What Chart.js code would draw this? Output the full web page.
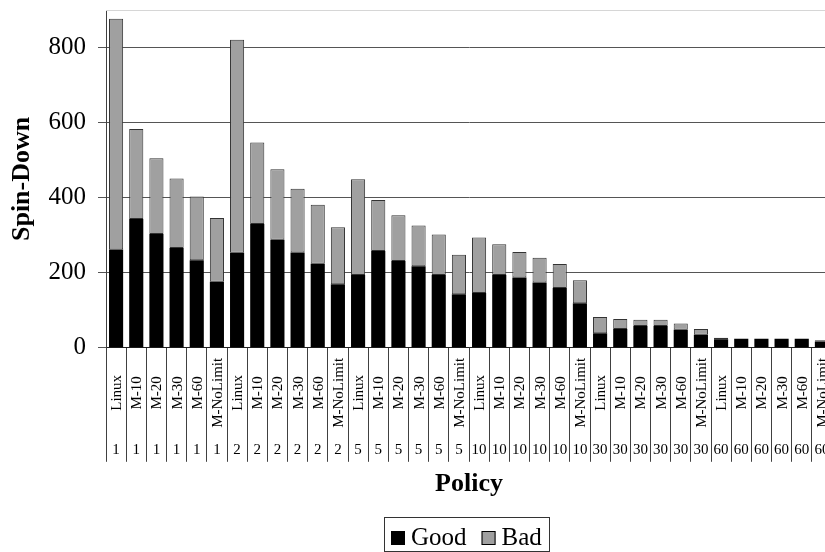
<!DOCTYPE html>
<html>
<head>
<meta charset="utf-8">
<title>Spin-Down by Policy</title>
<script src="https://cdn.jsdelivr.net/npm/chart.js@4.4.1/dist/chart.umd.min.js"></script>
<style>
  html, body { margin: 0; padding: 0; background: #fff; overflow: hidden; }
  #wrap { width: 832px; height: 552px; }
</style>
</head>
<body>
<div id="wrap"><canvas id="chart" width="832" height="552"></canvas></div>
<script>
// policies repeated inside each group (group = second label row)
const policies = ["Linux", "M-10", "M-20", "M-30", "M-60", "M-NoLimit"];
const groups = ["1", "2", "5", "10", "30", "60"];

// spin-downs per group/policy
const good = [262, 343, 303, 266, 233, 176,
              253, 330, 288, 254, 224, 169,
              194, 258, 231, 217, 194, 143,
              146, 194, 187, 174, 159, 119,
              39, 50, 58, 58, 48, 35,
              23, 24, 24, 24, 24, 17];
const bad = [615, 240, 202, 185, 170, 170,
             568, 217, 188, 170, 157, 152,
             255, 136, 122, 109, 108, 105,
             148, 82, 68, 66, 64, 61,
             43, 27, 17, 17, 17, 15,
             4, 0, 0, 0, 0, 3];

const yTicks = [0, 200, 400, 600, 800];
const yMax = 900;

const serif = '"Liberation Serif", "Times New Roman", serif';
const goodColor = "#000000";
const badColor = "#a0a0a0";

// one category per (group, policy)
const categories = [];
groups.forEach(g => policies.forEach(p => categories.push({ policy: p, group: g })));
const labels = categories.map(c => c.policy + " " + c.group);

// two row category axis: rotated policy names, then the group number
const axisLabels = {
    id: "axisLabels",
    beforeDatasetsDraw(chart) {
        const { ctx, chartArea } = chart;
        ctx.save();
        ctx.strokeStyle = "#d6d6d6";
        ctx.lineWidth = 1;
        ctx.beginPath();
        ctx.moveTo(chartArea.left, chartArea.top + 0.5);
        ctx.lineTo(chartArea.right, chartArea.top + 0.5);
        ctx.stroke();
        ctx.restore();
    },
    afterDraw(chart) {
        const { ctx, chartArea, scales: { x } } = chart;
        ctx.save();
        ctx.fillStyle = "#000";
        ctx.textAlign = "center";
        ctx.textBaseline = "middle";
        categories.forEach((c, i) => {
            const px = x.getPixelForValue(i);
            ctx.font = "15px " + serif;
            ctx.save();
            ctx.translate(px + 1, chartArea.bottom + 45);
            ctx.rotate(-Math.PI / 2);
            ctx.fillText(c.policy, 0, 0);
            ctx.restore();
            ctx.fillText(c.group, px, chartArea.bottom + 102);
        });
        ctx.restore();
    }
};

// boxed legend under the axis title
const legendBox = {
    id: "legendBox",
    afterDraw(chart) {
        const { ctx, chartArea } = chart;
        const items = [
            { text: "Good", color: goodColor },
            { text: "Bad", color: badColor }
        ];
        const sq = 14, gap = 6, spacing = 15, pad = 7;
        ctx.save();
        ctx.font = "25px " + serif;
        let total = pad * 2 + spacing * (items.length - 1);
        items.forEach(it => { it.w = ctx.measureText(it.text).width; total += sq + gap + it.w; });
        const left = Math.round((chartArea.left + chartArea.right) / 2 - total / 2 - 3);
        const top = 517, bottom = 551;

        ctx.strokeStyle = "#333";
        ctx.lineWidth = 1;
        ctx.strokeRect(left + 0.5, top + 0.5, Math.round(total), bottom - top);

        let cx = left + pad;
        ctx.textBaseline = "alphabetic";
        ctx.textAlign = "left";
        items.forEach(it => {
            ctx.fillStyle = it.color;
            ctx.fillRect(cx, 531, sq, sq);
            ctx.strokeStyle = "#000";
            ctx.strokeRect(cx + 0.5, 531.5, sq - 1, sq - 1);
            cx += sq + gap;
            ctx.fillStyle = "#000";
            ctx.fillText(it.text, cx, 545);
            cx += it.w + spacing;
        });
        ctx.restore();
    }
};

Chart.defaults.font.family = serif;
Chart.defaults.color = "#000";

new Chart(document.getElementById("chart"), {
    type: "bar",
    data: {
        labels: labels,
        datasets: [
            {
                label: "Good",
                data: good,
                backgroundColor: goodColor,
                borderWidth: 0
            },
            {
                label: "Bad",
                data: bad,
                backgroundColor: badColor,
                borderColor: "#333",
                borderWidth: 1,
                borderSkipped: false
            }
        ]
    },
    options: {
        responsive: false,
        animation: false,
        devicePixelRatio: 1,
        layout: { padding: { top: 10, bottom: 52, left: 0, right: 0 } },
        datasets: { bar: { barPercentage: 0.7, categoryPercentage: 1 } },
        plugins: {
            legend: { display: false },
            tooltip: { enabled: false }
        },
        scales: {
            x: {
                stacked: true,
                grid: { drawOnChartArea: false, offset: true, tickLength: 114, color: "#404040" },
                border: { color: "#202020" },
                ticks: { display: false, autoSkip: false },
                title: {
                    display: true,
                    text: "Policy",
                    color: "#000",
                    font: { size: 26, weight: "bold" },
                    padding: { top: 7, bottom: 0 }
                }
            },
            y: {
                stacked: true,
                min: 0,
                max: yMax,
                afterBuildTicks: s => { s.ticks = yTicks.map(v => ({ value: v })); },
                afterFit: s => {
                    s.width = 106;
                    // the 800 label sits well below the top, no extra room needed
                    s.paddingTop = 0;
                    s.paddingBottom = 0;
                },
                border: { color: "#404040" },
                grid: { color: "#555", tickLength: 8, tickColor: "#555" },
                ticks: { padding: 12, color: "#000", font: { size: 25 } },
                title: {
                    display: true,
                    text: "Spin-Down",
                    color: "#000",
                    font: { size: 26, weight: "bold" },
                    padding: { top: 7, bottom: 0 }
                }
            }
        }
    },
    plugins: [axisLabels, legendBox]
});
</script>
</body>
</html>
